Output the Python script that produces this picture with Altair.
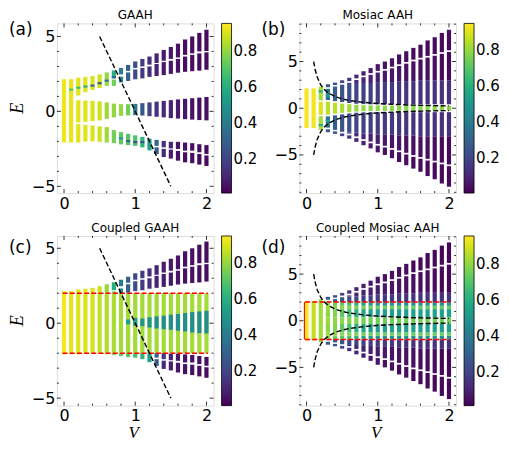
import altair as alt
import pandas as pd

# ---------------------------------------------------------------- data
V_ALL = [0.0, 0.1, 0.2, 0.3, 0.4, 0.5, 0.6, 0.7, 0.8, 0.9, 1.0,
         1.1, 1.2, 1.3, 1.4, 1.5, 1.6, 1.7, 1.8, 1.9, 2.0]

# (a) GAAH  -- bands of eigenvalues (E ranges) per V, colour = IPR
A_FULL_V = [0.0, 0.1]
A_FULL_LO = [-2.08, -2.08]
A_FULL_HI = [2.15, 2.15]
A_FULL_C = [0.93, 0.92]

A_V = [0.2, 0.3, 0.4, 0.5, 0.6, 0.7, 0.8, 0.9, 1.0, 1.1, 1.2, 1.3, 1.4, 1.5, 1.6, 1.7, 1.8, 1.9, 2.0]
A_UP_LO = [1.06, 1.28, 1.43, 1.56, 1.70, 2.20, 2.47, 2.70, 2.90, 3.00, 3.12, 3.23, 3.38, 3.50, 3.60, 3.77, 3.87, 4.00, 4.03]
A_UP_HI = [2.25, 2.30, 2.36, 2.47, 2.60, 2.73, 2.90, 3.10, 3.33, 3.50, 3.66, 3.87, 4.10, 4.30, 4.52, 4.80, 5.00, 5.24, 5.45]
A_UP_C = [0.91, 0.91, 0.90, 0.88, 0.80, 0.60, 0.40, 0.30, 0.22, 0.17, 0.13, 0.10, 0.08, 0.07, 0.06, 0.05, 0.05, 0.04, 0.04]

A_UP2_V = [0.7, 0.8, 0.9, 1.0, 1.1, 1.2, 1.3, 1.4, 1.5, 1.6, 1.7, 1.8, 1.9, 2.0]
A_UP2_LO = [1.70, 1.93, 2.03, 2.14, 2.20, 2.30, 2.36, 2.42, 2.50, 2.58, 2.64, 2.68, 2.72, 2.78]
A_UP2_HI = [2.12, 2.32, 2.60, 2.80, 2.90, 3.00, 3.16, 3.29, 3.38, 3.50, 3.66, 3.77, 3.87, 3.94]
A_UP2_C = [0.75, 0.45, 0.30, 0.22, 0.17, 0.13, 0.10, 0.08, 0.07, 0.06, 0.05, 0.05, 0.04, 0.04]

A_MID_LO = [-0.74, -0.70, -0.65, -0.60, -0.50, -0.40, -0.30, -0.27, -0.25, -0.28, -0.32, -0.36, -0.40, -0.45, -0.48, -0.52, -0.55, -0.58, -0.60]
A_MID_HI = [0.74, 0.72, 0.70, 0.67, 0.60, 0.52, 0.48, 0.48, 0.50, 0.55, 0.60, 0.65, 0.70, 0.75, 0.80, 0.84, 0.88, 0.92, 0.96]
A_MID_C = [0.91, 0.91, 0.90, 0.88, 0.82, 0.80, 0.80, 0.75, 0.40, 0.27, 0.20, 0.15, 0.12, 0.10, 0.08, 0.07, 0.06, 0.05, 0.05]

A_LO1_HI = [-0.85, -0.90, -0.95, -1.00, -1.05, -1.25, -1.38, -1.50, -1.60, -1.70, -1.82, -1.90, -1.97, -2.03, -2.03, -2.08, -2.12, -2.19, -2.25]
A_LO1_LO = [-2.08, -2.02, -2.00, -2.03, -2.08, -2.12, -2.20, -2.25, -2.30, -2.40, -2.60, -2.30, -2.40, -2.47, -2.51, -2.62, -2.62, -2.73, -2.84]
A_LO1_C = [0.91, 0.91, 0.90, 0.88, 0.82, 0.75, 0.72, 0.70, 0.68, 0.62, 0.55, 0.32, 0.15, 0.10, 0.07, 0.06, 0.05, 0.05, 0.04]

A_LO2_V = [1.3, 1.4, 1.5, 1.6, 1.7, 1.8, 1.9, 2.0]
A_LO2_HI = [-2.40, -2.50, -2.55, -2.64, -2.73, -2.77, -2.84, -2.94]
A_LO2_LO = [-2.85, -3.05, -3.15, -3.29, -3.40, -3.46, -3.55, -3.64]
A_LO2_C = [0.28, 0.12, 0.08, 0.06, 0.05, 0.05, 0.04, 0.04]

# small localised states (short marks) inside the bands of (a)
A_DOT_V = [0.1, 0.2, 0.3, 0.4, 0.5, 0.6, 0.7, 0.8, 0.9, 1.0, 1.1]
A_DOT_LO = [1.38, 1.51, 1.59, 1.65, 1.81, 1.98, 2.21, -1.87, -2.05, -2.12, -2.12]
A_DOT_HI = [1.52, 1.65, 1.73, 1.79, 1.95, 2.12, 2.35, -1.73, -1.91, -1.98, -1.98]
A_DOT_C = [0.70, 0.65, 0.60, 0.30, 0.28, 0.35, 0.30, 0.50, 0.30, 0.25, 0.25]

# (b) Mosaic AAH
B_FULL_V = [0.0, 0.1]
B_FULL_LO = [-2.12, -2.12]
B_FULL_HI = [2.12, 2.12]
B_FULL_C = [0.94, 0.93]

B02_V = [0.2, 0.2, 0.2]
B02_LO = [0.85, -0.70, -2.30]
B02_HI = [2.30, 0.70, -0.85]
B02_C = [0.82, 0.90, 0.82]

B_V = [0.3, 0.4, 0.5, 0.6, 0.7, 0.8, 0.9, 1.0, 1.1, 1.2, 1.3, 1.4, 1.5, 1.6, 1.7, 1.8, 1.9, 2.0]
B_TOP = [2.57, 2.74, 2.99, 3.26, 3.60, 3.96, 4.30, 4.72, 5.00, 5.35, 5.76, 6.10, 6.46, 6.80, 7.26, 7.60, 8.06, 8.40]
B_CAP_LO = [2.25, 2.48, 2.70, 2.90, 3.20, 3.50, 3.75, 4.00, 4.20, 4.45, 4.70, 4.95, 5.20, 5.40, 5.60, 5.80, 6.00, 6.20]
B_OUT_HI = [2.08, 2.32, 2.52, 2.72, 3.02, 3.32, 3.57, 3.82, 4.02, 4.27, 4.52, 4.77, 5.02, 5.22, 5.42, 5.62, 5.82, 6.02]
B_SPLIT = [2.08, 2.32, 2.52, 2.60, 2.60, 2.70, 2.70, 2.80, 2.80, 2.80, 2.90, 2.90, 2.90, 3.00, 3.00, 3.00, 3.00, 3.00]
B_OUT_LO = [0.88, 0.76, 0.66, 0.56, 0.48, 0.44, 0.42, 0.42, 0.42, 0.42, 0.42, 0.42, 0.42, 0.42, 0.42, 0.42, 0.42, 0.42]
B_CEN = [0.68, 0.58, 0.50, 0.43, 0.37, 0.32, 0.30, 0.30, 0.29, 0.29, 0.28, 0.28, 0.28, 0.27, 0.27, 0.27, 0.26, 0.26]
B_CAP_C = [0.28, 0.25, 0.20, 0.15, 0.10, 0.08, 0.07, 0.06, 0.05, 0.05, 0.04, 0.04, 0.03, 0.03, 0.03, 0.03, 0.03, 0.03]
B_IN_C = [0.35, 0.28, 0.24, 0.22, 0.20, 0.19, 0.18, 0.17, 0.17, 0.16, 0.16, 0.15, 0.15, 0.15, 0.14, 0.14, 0.14, 0.14]
B_OUTER_C = [0.30, 0.25, 0.20, 0.15, 0.12, 0.10, 0.09, 0.08, 0.07, 0.06, 0.06, 0.05, 0.05, 0.04, 0.04, 0.04, 0.03, 0.03]
B_CEN_C = [0.85, 0.85, 0.83, 0.82, 0.80, 0.80, 0.79, 0.79, 0.79, 0.78, 0.78, 0.78, 0.78, 0.78, 0.78, 0.78, 0.78, 0.78]

B_DOT_V = [0.2, 0.2, 0.3, 0.3]
B_DOT_LO = [1.68, -1.92, 1.23, -1.47]
B_DOT_HI = [1.92, -1.68, 1.47, -1.23]
B_DOT_C = [0.60, 0.60, 0.55, 0.55]

# (c) Coupled GAAH : clean-chain continuum inside |E|<2
C_IN_C = [0.94, 0.91, 0.90, 0.90, 0.89, 0.86, 0.84, 0.83, 0.82, 0.82, 0.82,
          0.82, 0.82, 0.82, 0.82, 0.82, 0.82, 0.82, 0.82, 0.82, 0.82]
C_CEN_V = [0.9, 1.0, 1.1, 1.2, 1.3, 1.4, 1.5, 1.6, 1.7, 1.8, 1.9, 2.0]
C_CEN_LO = [-0.08, -0.18, -0.20, -0.29, -0.36, -0.40, -0.44, -0.50, -0.55, -0.62, -0.66, -0.68]
C_CEN_HI = [0.25, 0.36, 0.31, 0.40, 0.46, 0.50, 0.57, 0.62, 0.68, 0.74, 0.79, 0.83]
C_CEN_C = [0.55, 0.55, 0.50, 0.50, 0.48, 0.47, 0.47, 0.47, 0.47, 0.47, 0.47, 0.47]

# (d) Coupled Mosaic AAH : inside |E|<2
D_FULL_V = [0.0, 0.1, 0.2]
D_FULL_C = [0.95, 0.88, 0.83]
D_EDGE = [1.6, 2.0]
D_MIDB = [1.25, 1.6]
D_INB = [0.35, 1.25]
D_CENB = 0.35
D_EDGE_C = [0.78, 0.75, 0.72, 0.68, 0.62, 0.56, 0.52, 0.50, 0.50, 0.50, 0.50, 0.50, 0.50, 0.50, 0.50, 0.50, 0.50, 0.50]
D_MID_C = [0.82, 0.80, 0.80, 0.78, 0.78, 0.76, 0.75, 0.75, 0.75, 0.75, 0.74, 0.74, 0.74, 0.74, 0.74, 0.74, 0.74, 0.74]
D_IN_C = [0.80, 0.78, 0.72, 0.68, 0.62, 0.58, 0.55, 0.55, 0.55, 0.55, 0.55, 0.55, 0.55, 0.55, 0.55, 0.55, 0.55, 0.55]
D_CEN_C = [0.82, 0.80, 0.80, 0.78, 0.78, 0.76, 0.75, 0.75, 0.75, 0.75, 0.75, 0.75, 0.75, 0.75, 0.75, 0.75, 0.75, 0.75]

# dashed guide lines
DASH_V = [0.5, 1.5]
DASH_E = [5.0, -5.0]
CURVE_V = [0.1, 0.12, 0.15, 0.2, 0.25, 0.3, 0.4, 0.5, 0.6, 0.8, 1.0, 1.2, 1.5, 1.8, 2.0]
CURVE_E = [5.0, 4.17, 3.33, 2.5, 2.0, 1.67, 1.25, 1.0, 0.83, 0.63, 0.5, 0.42, 0.33, 0.28, 0.25]
RED_V = [-0.02, 2.02]
RED_E = 2.0
RED_SIDE_V = -0.03

# axes ticks
X_MAJOR = [0, 1, 2]
X_MINOR = [0.2, 0.4, 0.6, 0.8, 1.2, 1.4, 1.6, 1.8]
Y1_MAJOR = [-5, 0, 5]
Y1_MINOR = [-4, -3, -2, -1, 1, 2, 3, 4]
Y2_MAJOR = [-5, 0, 5]
Y2_MINOR = [-9, -8, -7, -6, -4, -3, -2, -1, 1, 2, 3, 4, 6, 7, 8, 9]
CB_VALUES = [0.2, 0.4, 0.6, 0.8]

X_DOM = [-0.1, 2.1]
YA_DOM = [-5.45, 5.87]
YB_DOM = [-9.08, 9.08]
YC_DOM = [-5.5, 5.82]
YD_DOM = [-9.1, 9.09]
CA_DOM = [0.015, 0.95]
CB_DOM = [0.007, 0.948]
CC_DOM = [0.01, 0.948]
CD_DOM = [0.012, 0.959]

# ---------------------------------------------------------------- helpers
W, H = 157, 170
FONT = "DejaVu Sans"


def rows_from(vs, los, his, cs):
    return [{"V": v, "lo": lo, "hi": hi, "c": c} for v, lo, hi, c in zip(vs, los, his, cs)]


def outside(rows, lim=2.0):
    out = []
    for r in rows:
        if r["hi"] > lim:
            out.append({"V": r["V"], "lo": max(r["lo"], lim), "hi": r["hi"], "c": r["c"]})
        if r["lo"] < -lim:
            out.append({"V": r["V"], "lo": r["lo"], "hi": min(r["hi"], -lim), "c": r["c"]})
    return out


# panel (a) rows
rows_a = rows_from(A_FULL_V, A_FULL_LO, A_FULL_HI, A_FULL_C)
rows_a += rows_from(A_V, A_UP_LO, A_UP_HI, A_UP_C)
rows_a += rows_from(A_UP2_V, A_UP2_LO, A_UP2_HI, A_UP2_C)
rows_a += rows_from(A_V, A_MID_LO, A_MID_HI, A_MID_C)
rows_a += rows_from(A_V, A_LO1_LO, A_LO1_HI, A_LO1_C)
rows_a += rows_from(A_LO2_V, A_LO2_LO, A_LO2_HI, A_LO2_C)

# panel (b) rows
rows_b = rows_from(B_FULL_V, B_FULL_LO, B_FULL_HI, B_FULL_C)
rows_b += rows_from(B02_V, B02_LO, B02_HI, B02_C)
for i, v in enumerate(B_V):
    top_in = min(B_SPLIT[i], B_OUT_HI[i])
    rows_b.append({"V": v, "lo": B_CAP_LO[i], "hi": B_TOP[i], "c": B_CAP_C[i]})
    rows_b.append({"V": v, "lo": -B_TOP[i], "hi": -B_CAP_LO[i], "c": B_CAP_C[i]})
    rows_b.append({"V": v, "lo": B_OUT_LO[i], "hi": top_in, "c": B_IN_C[i]})
    rows_b.append({"V": v, "lo": -top_in, "hi": -B_OUT_LO[i], "c": B_IN_C[i]})
    if B_SPLIT[i] < B_OUT_HI[i]:
        rows_b.append({"V": v, "lo": B_SPLIT[i], "hi": B_OUT_HI[i], "c": B_OUTER_C[i]})
        rows_b.append({"V": v, "lo": -B_OUT_HI[i], "hi": -B_SPLIT[i], "c": B_OUTER_C[i]})
    rows_b.append({"V": v, "lo": -B_CEN[i], "hi": B_CEN[i], "c": B_CEN_C[i]})

# panel (c) rows
rows_c = [{"V": v, "lo": -RED_E, "hi": RED_E, "c": c} for v, c in zip(V_ALL, C_IN_C)]
rows_c += rows_from(C_CEN_V, C_CEN_LO, C_CEN_HI, C_CEN_C)
rows_c += outside(rows_a, RED_E)

# panel (d) rows
rows_d = [{"V": v, "lo": -RED_E, "hi": RED_E, "c": c} for v, c in zip(D_FULL_V, D_FULL_C)]
for i, v in enumerate(B_V):
    for (lo, hi), cl in ((D_EDGE, D_EDGE_C), (D_MIDB, D_MID_C), (D_INB, D_IN_C)):
        rows_d.append({"V": v, "lo": lo, "hi": hi, "c": cl[i]})
        rows_d.append({"V": v, "lo": -hi, "hi": -lo, "c": cl[i]})
    rows_d.append({"V": v, "lo": -D_CENB, "hi": D_CENB, "c": D_CEN_C[i]})
rows_d += outside(rows_b, RED_E)

rows_a += rows_from(A_DOT_V, A_DOT_LO, A_DOT_HI, A_DOT_C)
rows_b += rows_from(B_DOT_V, B_DOT_LO, B_DOT_HI, B_DOT_C)

straight = pd.DataFrame({"V": DASH_V, "E": DASH_E, "g": ["s", "s"]})
curves = pd.DataFrame({
    "V": CURVE_V + CURVE_V,
    "E": CURVE_E + [-e for e in CURVE_E],
    "g": ["u"] * len(CURVE_V) + ["l"] * len(CURVE_V),
})
red = pd.DataFrame({"V": RED_V + RED_V, "E": [RED_E, RED_E, -RED_E, -RED_E],
                    "g": ["t", "t", "b", "b"]})
red_side = pd.DataFrame({"V": [RED_SIDE_V, RED_SIDE_V], "E": [-RED_E, RED_E], "g": ["s", "s"]})


def txt(s, x, y, size, font=FONT, align="left", style="normal", angle=0):
    return alt.Chart(pd.DataFrame({"t": [s]})).mark_text(
        align=align, baseline="alphabetic", fontSize=size, font=font,
        fontStyle=style, angle=angle, color="black").encode(
        text="t:N", x=alt.value(x), y=alt.value(y))


def panel(rows, ydom, cdom, ymaj, ymin, title, letter, lx, ly,
          guide=None, reds=False, side=False, ylab=False, xlab=False):
    xs = alt.Scale(domain=X_DOM, nice=False, zero=False)
    ys = alt.Scale(domain=ydom, nice=False, zero=False)
    xax = alt.Axis(values=X_MAJOR, format="d", ticks=False, domain=False, grid=False,
                   labelFontSize=16, labelFont=FONT, labelColor="black",
                   labelPadding=2, labelFlush=False, title=None)
    yax = alt.Axis(values=ymaj, format="d", ticks=False, domain=False, grid=False,
                   labelFontSize=16, labelFont=FONT, labelColor="black",
                   labelPadding=2, labelFlush=False, title=None)

    def X(f):
        return alt.X(f, type="quantitative", scale=xs, axis=xax)

    def Y(f):
        return alt.Y(f, type="quantitative", scale=ys, axis=yax)

    col = alt.Color("c:Q", scale=alt.Scale(scheme="viridis", domain=cdom),
                    legend=alt.Legend(type="gradient", title=None, values=CB_VALUES,
                                      format=".1f", gradientLength=H, gradientThickness=10,
                                      offset=8, padding=0, labelFontSize=15,
                                      labelFont=FONT, labelColor="black",
                                      labelOffset=2, gradientStrokeColor="black",
                                      gradientStrokeWidth=0.8, direction="vertical",
                                      orient="right", labelOverlap=False))

    layers = [
        alt.Chart(pd.DataFrame(rows)).mark_rule(strokeWidth=4.2, strokeCap="butt").encode(
            x=X("V"), y=Y("lo"), y2=alt.Y2("hi"), color=col)
    ]
    if reds:
        layers.append(alt.Chart(red).mark_line(color="#ff0000", strokeDash=[5, 2.2],
                                               strokeWidth=1.5).encode(
            x=X("V"), y=Y("E"), detail="g:N"))
    if side:
        layers.append(alt.Chart(red_side).mark_line(color="#ff0000", strokeWidth=1.1).encode(
            x=X("V"), y=Y("E"), detail="g:N"))
    if guide is not None:
        layers.append(alt.Chart(guide).mark_line(color="black", strokeDash=[5, 2.5],
                                                 strokeWidth=1.4).encode(
            x=X("V"), y=Y("E"), detail="g:N"))
    # inward ticks on all four sides
    for vals, ln in ((X_MAJOR, 4), (X_MINOR, 2)):
        d = pd.DataFrame({"V": vals})
        layers.append(alt.Chart(d).mark_rule(color="black", strokeWidth=0.8).encode(
            x=X("V"), y=alt.value(H), y2=alt.value(H - ln)))
        layers.append(alt.Chart(d).mark_rule(color="black", strokeWidth=0.8).encode(
            x=X("V"), y=alt.value(0), y2=alt.value(ln)))
    for vals, ln in ((ymaj, 4), (ymin, 2)):
        d = pd.DataFrame({"E": vals})
        layers.append(alt.Chart(d).mark_rule(color="black", strokeWidth=0.8).encode(
            y=Y("E"), x=alt.value(0), x2=alt.value(ln)))
        layers.append(alt.Chart(d).mark_rule(color="black", strokeWidth=0.8).encode(
            y=Y("E"), x=alt.value(W), x2=alt.value(W - ln)))
    layers.append(txt(title, W / 2, -4, 12, align="center"))
    layers.append(txt(letter, lx, ly, 17))
    if ylab:
        layers.append(txt("E", -34, H / 2, 18, font="Liberation Serif", align="center",
                          style="italic", angle=270))
    if xlab:
        layers.append(txt("V", 77, H + 32.5, 17, font="Liberation Serif", align="center",
                          style="italic"))

    return alt.layer(*layers).properties(width=W, height=H)


pa = panel(rows_a, YA_DOM, CA_DOM, Y1_MAJOR, Y1_MINOR, "GAAH", "(a)", -48, 12,
           guide=straight, ylab=True)
pb = panel(rows_b, YB_DOM, CB_DOM, Y2_MAJOR, Y2_MINOR, "Mosiac AAH", "(b)", -38, 12,
           guide=curves)
pc = panel(rows_c, YC_DOM, CC_DOM, Y1_MAJOR, Y1_MINOR, "Coupled GAAH", "(c)", -48, 17,
           guide=straight, reds=True, ylab=True, xlab=True)
pd_ = panel(rows_d, YD_DOM, CD_DOM, Y2_MAJOR, Y2_MINOR, "Coupled Mosiac AAH", "(d)", -38, 17,
            guide=curves, reds=True, side=True, xlab=True)

chart = alt.concat(pa, pb, pc, pd_, columns=2, spacing={"row": 43, "column": 86},
                   bounds="flush",
                   padding={"top": 0, "left": 0, "right": 0, "bottom": 0}).resolve_scale(
    color="independent", x="independent", y="independent"
).configure_view(stroke="black", strokeWidth=1).configure(background="white")

chart.save("out.html", embed_options={"renderer": "svg", "actions": False})
